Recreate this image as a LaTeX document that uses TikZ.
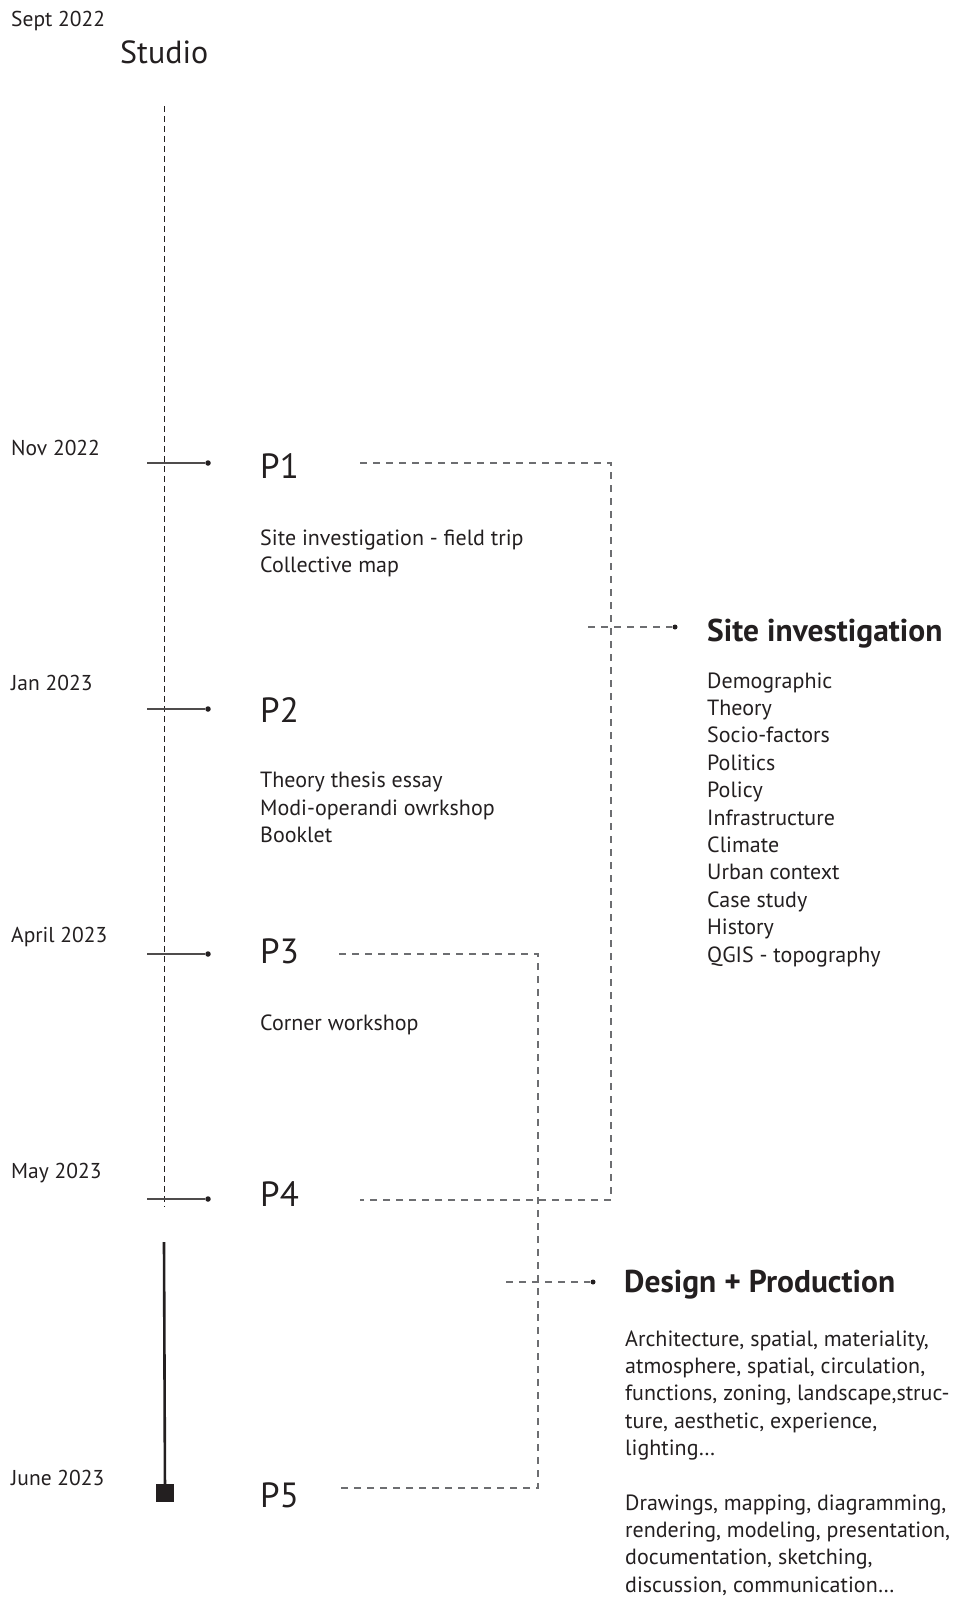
\documentclass[tikz,border=0pt]{standalone}
\usepackage{fontspec}
\setmainfont{PT Sans}
\usetikzlibrary{positioning}
\definecolor{ink}{HTML}{231F20}
\definecolor{guidegray}{HTML}{6D6E71}

\begin{document}
\begin{tikzpicture}[x=1pt,y=-1pt]
\tikzstyle{datelabel} = [font=\fontsize{21.5}{25}\selectfont, anchor=base west, inner sep=0, text=ink]
\tikzstyle{phaselabel} = [font=\fontsize{35}{40}\selectfont, anchor=base west, inner sep=0, text=ink]
\tikzstyle{bodytext} = [font=\fontsize{22}{26}\selectfont, anchor=base west, inner sep=0, text=ink]
\tikzstyle{headline} = [font=\bfseries\fontsize{31.5}{36}\selectfont, anchor=base west, inner sep=0, text=ink]
\tikzstyle{pindot} = [circle, fill=ink, inner sep=0, minimum size=5.5pt]
\tikzstyle{tickline} = [line width=1.1pt, ink!80]
\tikzstyle{guideline} = [line width=1.1pt, guidegray, dash pattern=on 7pt off 6pt]

\useasboundingbox (0,0) rectangle (958,1598);

% header
\node[datelabel] (sept) at (11,26) {Sept 2022};
\node[font=\fontsize{32}{36}\selectfont, anchor=base west, inner sep=0, text=ink] (studio) at (120,63) {Studio};

% time axis
\coordinate (axtop) at (164,106);
\coordinate (axbot) at (164,1207);
\draw[ink, line width=0.9pt, dash pattern=on 6pt off 4pt] (axtop) -- (axbot);
\coordinate (bartop) at (164,1242);
\node[rectangle, fill=ink, minimum size=18pt, inner sep=0] (endsq) at (165,1493) {};
\draw[ink, line width=2.6pt] (bartop) -- (endsq.center);

% dates
\node[datelabel] (nov) at (11,455) {Nov 2022};
\node[datelabel] (jan) at (11,690) {Jan 2023};
\node[datelabel] (apr) at (11,942) {April 2023};
\node[datelabel] (may) at (11,1178) {May 2023};
\node[datelabel] (jun) at (11,1485) {June 2023};

% ticks
\foreach \k/\y in {1/463,2/709,3/954,4/1199} {
  \coordinate (t\k) at (147,\y);
  \node[pindot] (d\k) at (208,\y) {};
  \draw[tickline] (t\k) -- (d\k);
}

% phases
\node[phaselabel] (p1) at (260,478) {P1};
\node[phaselabel] (p2) at (260,722) {P2};
\node[phaselabel] (p3) at (260,963) {P3};
\node[phaselabel] (p4) at (260,1206) {P4};
\node[phaselabel] (p5) at (260,1507) {P5};

\node[bodytext] (p1a) at (260,545) {Site investigation - field trip};
\node[bodytext] (p1b) at (260,572) {Collective map};
\node[bodytext] (p2a) at (260,787) {Theory thesis essay};
\node[bodytext] (p2b) at (260,815) {Modi-operandi owrkshop};
\node[bodytext] (p2c) at (260,842) {Booklet};
\node[bodytext] (p3a) at (260,1030) {Corner workshop};

% bracket P1 - P4
\coordinate (b1a) at (360,463);
\coordinate (b1b) at (611,463);
\coordinate (b1c) at (611,1200);
\coordinate (b1d) at (360,1200);
\draw[guideline] (b1a) -- (b1b) -- (b1c) -- (b1d);
\coordinate (r1) at (588,627);
\node[pindot, minimum size=5pt] (s1) at (675,627) {};
\draw[guideline] (r1) -- (s1);

% bracket P3 - P5
\coordinate (b2a) at (339,954);
\coordinate (b2b) at (538,954);
\coordinate (b2c) at (538,1488);
\coordinate (b2d) at (339,1488);
\draw[guideline] (b2a) -- (b2b) -- (b2c) -- (b2d);
\coordinate (r2) at (506,1282);
\node[pindot, minimum size=5pt] (s2) at (593,1282) {};
\draw[guideline] (r2) -- (s2);

% site investigation
\node[headline] (sihead) at (707,641) {Site investigation};
\foreach \t [count=\i] in {Demographic, Theory, Socio-factors, Politics, Policy,
  Infrastructure, Climate, Urban context, Case study, History, QGIS - topography}
  \node[bodytext] (si\i) at (707,{688+(\i-1)*27.4}) {\t};

% design + production
\node[headline] (dphead) at (624,1292) {Design + Production};
\foreach \t [count=\i] in {{Architecture, spatial, materiality,},
  {atmosphere, spatial, circulation,}, {functions, zoning, landscape,struc-},
  {ture, aesthetic, experience,}, {lighting\ldots}}
  \node[bodytext] (dpa\i) at (625,{1346+(\i-1)*27.4}) {\t};
\foreach \t [count=\i] in {{Drawings, mapping, diagramming,},
  {rendering, modeling, presentation,}, {documentation, sketching,},
  {discussion, communication\ldots}}
  \node[bodytext] (dpb\i) at (625,{1510+(\i-1)*27.4}) {\t};
\end{tikzpicture}
\end{document}
